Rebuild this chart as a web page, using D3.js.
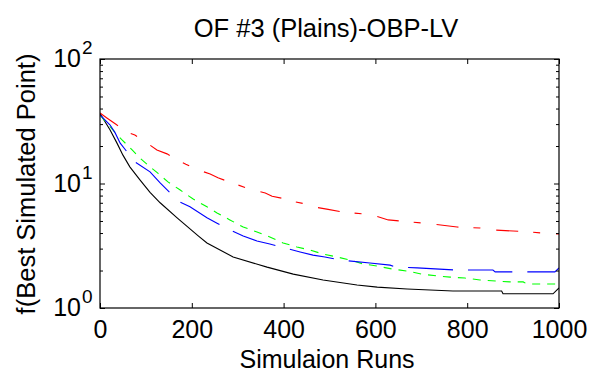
<!DOCTYPE html>
<html>
<head>
<meta charset="utf-8">
<script src="https://cdn.jsdelivr.net/npm/d3@7"></script>
<style>
  body { margin: 0; background: #fff; }
  text { font-family: "Liberation Sans", Arial, sans-serif; fill: #000; }
</style>
</head>
<body>
<svg id="chart" width="591" height="374"></svg>
<script>
// best-so-far objective values
const blackRuns = [0, 22, 37, 50, 65, 87, 109, 131, 168, 214, 233, 290, 364, 421, 486, 560, 604, 669, 769, 875, 878, 987, 1000];
const blackVals = [36.5, 26.9, 21.1, 16.9, 13.6, 10.7, 8.5, 7.0, 5.3, 3.8, 3.33, 2.57, 2.13, 1.87, 1.68, 1.53, 1.47, 1.42, 1.37, 1.37, 1.30, 1.30, 1.45];

const blueRuns = [0, 22, 33, 44, 76, 109, 131, 153, 174, 196, 233, 255, 283, 312, 342, 370, 403, 436, 464, 490, 523, 588, 632, 643, 691, 774, 856, 861, 991, 1000];
const blueVals = [35.5, 29.5, 25.5, 21.1, 14.9, 12.4, 10.1, 8.4, 7.1, 6.5, 5.3, 4.8, 4.24, 3.79, 3.45, 3.27, 3.03, 2.82, 2.66, 2.57, 2.43, 2.30, 2.21, 2.13, 2.10, 2.02, 2.02, 1.95, 1.95, 2.10];

const greenRuns = [0, 28, 48, 70, 87, 109, 126, 148, 174, 203, 233, 255, 283, 312, 342, 370, 399, 429, 458, 486, 516, 545, 573, 604, 636, 669, 702, 734, 763, 795, 828, 893, 922, 930, 996, 1000];
const greenVals = [35.5, 26.9, 22.4, 18.6, 16.0, 13.6, 12.1, 10.3, 8.9, 7.5, 6.5, 5.8, 5.1, 4.47, 4.08, 3.72, 3.33, 3.09, 2.92, 2.71, 2.57, 2.43, 2.26, 2.17, 2.06, 1.98, 1.87, 1.81, 1.77, 1.74, 1.68, 1.62, 1.62, 1.56, 1.56, 1.62];

const redRuns = [0, 15, 37, 63, 76, 105, 124, 146, 172, 187, 216, 240, 257, 288, 331, 360, 375, 405, 420, 451, 464, 497, 529, 573, 599, 628, 680, 723, 778, 828, 854, 937, 985, 1000];
const redVals = [36.8, 33.6, 29.5, 25.5, 24.5, 20.8, 18.6, 17.3, 15.2, 14.3, 12.8, 11.9, 11.1, 10.1, 8.9, 8.4, 7.9, 7.5, 7.2, 6.8, 6.5, 6.2, 5.9, 5.7, 5.5, 5.1, 4.9, 4.73, 4.47, 4.39, 4.24, 4.08, 3.93, 3.93];

const xTicks = [0, 200, 400, 600, 800, 1000];
const yTicks = [1, 10, 100];
const yTickExp = ["0", "1", "2"];
const yMinor = [2, 3, 4, 5, 6, 7, 8, 9, 20, 30, 40, 50, 60, 70, 80, 90];

const series = [
  { runs: blackRuns, vals: blackVals, color: "#000000", dash: null },
  { runs: greenRuns, vals: greenVals, color: "#00ff00", dash: "8,7" },
  { runs: blueRuns, vals: blueVals, color: "#0000ff", dash: "45,15" },
  { runs: redRuns, vals: redVals, color: "#ff0000", dash: "22,15,7,16" }
];

const svg = d3.select("#chart");
const margin = { top: 59, right: 32, bottom: 66, left: 100 };
const W = 591, H = 374;

const x = d3.scaleLinear().domain([0, 1000]).range([margin.left, W - margin.right]);
const y = d3.scaleLog().domain([1, 100]).range([H - margin.bottom, margin.top]);

svg.append("defs").append("clipPath").attr("id", "plotclip")
  .append("rect")
  .attr("x", x(0)).attr("y", y(100))
  .attr("width", x(1000) - x(0)).attr("height", y(1) - y(100));

const line = d3.line()
  .x(d => x(d[0]))
  .y(d => y(d[1]));

const lines = svg.append("g").attr("clip-path", "url(#plotclip)");
series.forEach(s => {
  const pts = s.runs.map((r, i) => [r, s.vals[i]]);
  lines.append("path")
    .datum(pts)
    .attr("fill", "none")
    .attr("stroke", s.color)
    .attr("stroke-width", 1.1)
    .attr("stroke-dasharray", s.dash)
    .attr("d", line);
});

// axes, ticks pointing inward
const gx = svg.append("g")
  .attr("transform", `translate(0,${y(1)})`)
  .call(d3.axisBottom(x).tickValues(xTicks).tickFormat(d3.format("d"))
    .tickSizeInner(-5).tickSizeOuter(0).tickPadding(12));
gx.selectAll("text").style("font-size", "25px");

svg.append("g")
  .attr("transform", `translate(0,${y(100)})`)
  .call(d3.axisTop(x).tickValues(xTicks).tickSizeInner(-5).tickSizeOuter(0).tickFormat(""));

svg.append("g")
  .attr("transform", `translate(${x(0)},0)`)
  .call(d3.axisLeft(y).tickValues(yTicks).tickSizeInner(-5).tickSizeOuter(0).tickFormat(""));
svg.append("g")
  .attr("transform", `translate(${x(0)},0)`)
  .call(d3.axisLeft(y).tickValues(yMinor).tickSizeInner(-3).tickSizeOuter(0).tickFormat(""));
svg.append("g")
  .attr("transform", `translate(${x(1000)},0)`)
  .call(d3.axisRight(y).tickValues(yTicks).tickSizeInner(-5).tickSizeOuter(0).tickFormat(""));
svg.append("g")
  .attr("transform", `translate(${x(1000)},0)`)
  .call(d3.axisRight(y).tickValues(yMinor).tickSizeInner(-3).tickSizeOuter(0).tickFormat(""));

svg.selectAll(".domain").remove();
svg.selectAll(".tick line").attr("stroke", "#000");

svg.append("rect")
  .attr("x", x(0)).attr("y", y(100))
  .attr("width", x(1000) - x(0)).attr("height", y(1) - y(100))
  .attr("fill", "none").attr("stroke", "#000").attr("stroke-width", 1.2);

// y tick labels as 10^n
const yl = svg.append("g");
yTicks.forEach((v, i) => {
  yl.append("text")
    .attr("x", x(0) - 19).attr("y", y(v) + 8)
    .attr("text-anchor", "end")
    .style("font-size", "25px")
    .text("10");
  yl.append("text")
    .attr("x", x(0) - 18).attr("y", y(v) - 5)
    .attr("text-anchor", "start")
    .style("font-size", "19px")
    .text(yTickExp[i]);
});

svg.append("text")
  .attr("x", 326).attr("y", 37)
  .attr("text-anchor", "middle")
  .style("font-size", "25.5px")
  .text("OF #3 (Plains)-OBP-LV");

svg.append("text")
  .attr("x", 327).attr("y", 368)
  .attr("text-anchor", "middle")
  .style("font-size", "25px")
  .text("Simulaion Runs");

svg.append("text")
  .attr("transform", "translate(35,184) rotate(-90)")
  .attr("text-anchor", "middle")
  .style("font-size", "25.5px")
  .text("f(Best Simulated Point)");
</script>
</body>
</html>
